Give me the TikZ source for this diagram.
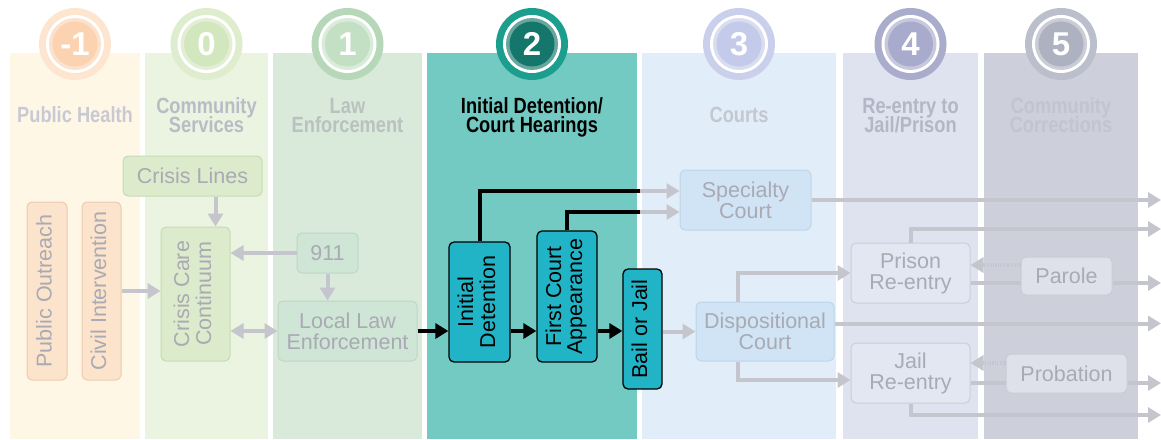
\documentclass[tikz,border=0pt]{standalone}
\usepackage{fontspec}
\setmainfont{Liberation Sans}
\usepackage{graphicx}
\usetikzlibrary{arrows.meta}

\definecolor{phband}{HTML}{FFF7E6}
\definecolor{csband}{HTML}{EBF4E0}
\definecolor{leband}{HTML}{D9E9DA}
\definecolor{idband}{HTML}{72CAC2}
\definecolor{coband}{HTML}{E1EEF9}
\definecolor{reband}{HTML}{DFE2EF}
\definecolor{ccband}{HTML}{CDD0DB}
\definecolor{phring}{HTML}{FDE5D0}
\definecolor{phdisk}{HTML}{FBD3B1}
\definecolor{csring}{HTML}{DEEDCE}
\definecolor{csdisk}{HTML}{D3E7BF}
\definecolor{lering}{HTML}{B6D7B8}
\definecolor{ledisk}{HTML}{C4E0C4}
\definecolor{idring}{HTML}{1B9E8D}
\definecolor{iddisk}{HTML}{15776B}
\definecolor{coring}{HTML}{CAD0EC}
\definecolor{codisk}{HTML}{C4CBEA}
\definecolor{rering}{HTML}{A9ADCB}
\definecolor{redisk}{HTML}{A8ABCC}
\definecolor{ccring}{HTML}{BBBECB}
\definecolor{ccdisk}{HTML}{ADB1C0}
\definecolor{phtext}{HTML}{C8C9D4}
\definecolor{cstext}{HTML}{B9BCC6}
\definecolor{letext}{HTML}{B9C2BF}
\definecolor{cotext}{HTML}{C5C7CF}
\definecolor{retext}{HTML}{B3B6C4}
\definecolor{cctext}{HTML}{C2C5D0}
\definecolor{orgfill}{HTML}{FCE3CB}
\definecolor{orgline}{HTML}{EDCBAE}
\definecolor{grnfill}{HTML}{DCEBCB}
\definecolor{grnline}{HTML}{C7DBB3}
\definecolor{lawfill}{HTML}{CFE5D6}
\definecolor{lawline}{HTML}{BED7C6}
\definecolor{tealfill}{HTML}{21B4C6}
\definecolor{bluefill}{HTML}{D0E4F5}
\definecolor{blueline}{HTML}{BDD5EA}
\definecolor{lavfill}{HTML}{E3E7F2}
\definecolor{lavline}{HTML}{C9CEDD}
\definecolor{slatefill}{HTML}{DEE1EA}
\definecolor{slateline}{HTML}{C9CCD6}
\definecolor{lgray}{HTML}{C5C5CD}
\definecolor{boxtext}{HTML}{A9AAB3}

\newcommand{\vlabel}[1]{\rotatebox{90}{\begin{tabular}{@{}c@{}}#1\end{tabular}}}
\newcommand{\hlabel}[1]{\scalebox{0.83}[1]{\begin{tabular}{@{}c@{}}#1\end{tabular}}}

\tikzset{
  head/.style={font=\bfseries\fontsize{22}{20}\selectfont, inner sep=0pt},
  box/.style={rectangle, rounded corners=5pt, inner sep=0pt, line width=1pt, align=center,
    font=\fontsize{21.5}{21}\selectfont, text=boxtext},
  orgbox/.style={box, fill=orgfill, draw=orgline},
  grnbox/.style={box, fill=grnfill, draw=grnline},
  lawbox/.style={box, fill=lawfill, draw=lawline},
  tealbox/.style={box, fill=tealfill, draw=black, line width=1.3pt, text=black},
  bluebox/.style={box, fill=bluefill, draw=blueline},
  lavbox/.style={box, fill=lavfill, draw=lavline},
  slatebox/.style={box, fill=slatefill, draw=slateline},
  gline/.style={line width=4pt, draw=lgray},
  garrow/.style={gline, -{Triangle[length=13pt,width=15pt]}},
  gdarrow/.style={gline, {Triangle[length=13pt,width=15pt]}-{Triangle[length=13pt,width=15pt]}},
  dotarrow/.style={gline, dash pattern=on 1.2pt off 1.2pt, -{Triangle[length=13pt,width=15pt]}},
  bline/.style={line width=4pt, draw=black},
  barrow/.style={bline, -{Triangle[length=13pt,width=15pt]}}
}

\begin{document}
\begin{tikzpicture}[x=1pt,y=-1pt]
\useasboundingbox (0,0) rectangle (1161,439);

% bands
\fill[phband] (10,53) rectangle (140,439);
\fill[csband] (145,53) rectangle (268,439);
\fill[leband] (273,53) rectangle (422,439);
\fill[idband] (427,53) rectangle (637,439);
\fill[coband] (642,53) rectangle (836,439);
\fill[reband] (843,53) rectangle (978,439);
\fill[ccband] (984,53) rectangle (1138,439);

% intercept circles
\foreach \cx/\num/\cring/\cdisk in {75/-1/ph/ph, 206.5/0/cs/cs, 347.5/1/le/le,
    532/2/id/id, 739/3/co/co, 910.5/4/re/re, 1061/5/cc/cc}{
  \fill[\cring ring] (\cx,44) circle (36pt);
  \fill[white] (\cx,44) circle (29pt);
  \fill[\cdisk disk!65!white] (\cx,44) circle (26pt);
  \fill[\cdisk disk] (\cx,44) circle (22.5pt);
  \node[text=white, font=\bfseries\fontsize{33}{33}\selectfont] (num\num) at (\cx,44) {\num};
}

% band headings
\node[head, text=phtext] (hph) at (75,118) {\hlabel{Public Health}};
\node[head, text=cstext] (hcs) at (206.5,118) {\hlabel{Community\\[-3pt]Services}};
\node[head, text=letext] (hle) at (347.5,118) {\hlabel{Law\\[-3pt]Enforcement}};
\node[head, text=black] (hid) at (532,118) {\hlabel{Initial Detention/\\[-3pt]Court Hearings}};
\node[head, text=cotext] (hco) at (739,118) {\hlabel{Courts}};
\node[head, text=retext] (hre) at (910.5,118) {\hlabel{Re-entry to\\[-3pt]Jail/Prison}};
\node[head, text=cctext] (hcc) at (1061,118) {\hlabel{Community\\[-3pt]Corrections}};

% boxes
\node[orgbox, minimum width=40pt, minimum height=178pt] (outreach) at (47,291) {\vlabel{Public Outreach}};
\node[orgbox, minimum width=39pt, minimum height=178pt] (civil) at (101.5,291) {\vlabel{Civil Intervention}};
\node[grnbox, minimum width=139pt, minimum height=40pt] (crisislines) at (192.5,176) {Crisis Lines};
\node[grnbox, minimum width=69pt, minimum height=134pt] (crisiscare) at (195.5,294) {\vlabel{Crisis Care\\Continuum}};
\node[lawbox, minimum width=61pt, minimum height=40pt] (n911) at (327.5,253) {911};
\node[lawbox, minimum width=139pt, minimum height=60pt] (locallaw) at (347.5,331) {Local Law\\Enforcement};
\node[tealbox, minimum width=61pt, minimum height=120pt] (initdet) at (479.5,302) {\vlabel{Initial\\Detention}};
\node[tealbox, minimum width=60pt, minimum height=131pt] (firstcourt) at (567,296.5) {\vlabel{First Court\\Appearance}};
\node[tealbox, minimum width=39pt, minimum height=120pt] (bail) at (642.5,329) {\vlabel{Bail or Jail}};
\node[bluebox, minimum width=131pt, minimum height=60pt] (specialty) at (745.5,200) {Specialty\\Court};
\node[bluebox, minimum width=138pt, minimum height=59pt] (dispo) at (765,331.5) {Dispositional\\Court};
\node[lavbox, minimum width=119pt, minimum height=60pt] (prison) at (910.5,273) {Prison\\Re-entry};
\node[lavbox, minimum width=119pt, minimum height=60pt] (jail) at (910.5,373) {Jail\\Re-entry};
\node[slatebox, minimum width=91pt, minimum height=38pt] (parole) at (1066.5,276) {Parole};
\node[slatebox, minimum width=121pt, minimum height=39pt] (probation) at (1066.5,373.5) {Probation};

% connectors, left part
\coordinate (clfoot) at ([xshift=20pt]crisiscare.north);
\draw[garrow] (clfoot |- crisislines.south) -- (clfoot);
\draw[garrow] (n911.west) -- (n911.west -| crisiscare.east);
\draw[garrow] (n911.south) -- (n911.south |- locallaw.north);
\draw[garrow] (civil.east) -- (civil.east -| crisiscare.west);
\draw[gdarrow] (locallaw.west) -- (locallaw.west -| crisiscare.east);

% intercept 2
\draw[barrow] (locallaw.east) -- (locallaw.east -| initdet.west);
\draw[barrow] (locallaw.east -| initdet.east) -- (locallaw.east -| firstcourt.west);
\draw[barrow] (locallaw.east -| firstcourt.east) -- (locallaw.east -| bail.west);
\coordinate (cut1) at (640,191);
\coordinate (cut2) at (640,212);
\draw[bline] (initdet.north) |- (cut1);
\draw[bline] (firstcourt.north) |- (cut2);
\draw[garrow] (cut1) -- (cut1 -| specialty.west);
\draw[garrow] (cut2) -- (cut2 -| specialty.west);
\draw[garrow] (bail.east |- dispo.west) -- (dispo.west);

% courts and beyond
\coordinate (rim) at (1161,0);
\coordinate (dtop) at ([xshift=-27pt]dispo.north);
\coordinate (dbot) at ([xshift=-27pt]dispo.south);
\coordinate (dout) at ([yshift=8pt]dispo.east);
\draw[garrow] (dtop) |- (prison.west);
\draw[garrow] (dbot) |- ([yshift=-7pt]jail.west);
\draw[garrow] (specialty.east) -- (specialty.east -| rim);
\draw[garrow] (dout) -- (dout -| rim);

\coordinate (rimtop) at (1161,229);
\coordinate (rimbot) at (1161,415);
\coordinate (pout) at ([yshift=-10pt]prison.east);
\coordinate (jout) at ([yshift=-10pt]jail.east);
\coordinate (pin) at ([yshift=11pt]parole.west);
\coordinate (bin) at ([yshift=10.5pt]probation.west);
\draw[garrow] (prison.north) |- (rimtop);
\draw[gline] (pout) -- (pout -| parole.west);
\draw[garrow] (pout -| parole.east) -- (pout -| rim);
\draw[gline] (jout) -- (jout -| probation.west);
\draw[garrow] (jout -| probation.east) -- (jout -| rim);
\draw[garrow] (jail.south) |- (rimbot);
\draw[dotarrow] (pin) -- (pin -| prison.east);
\draw[dotarrow] (bin) -- (bin -| jail.east);
\end{tikzpicture}
\end{document}
